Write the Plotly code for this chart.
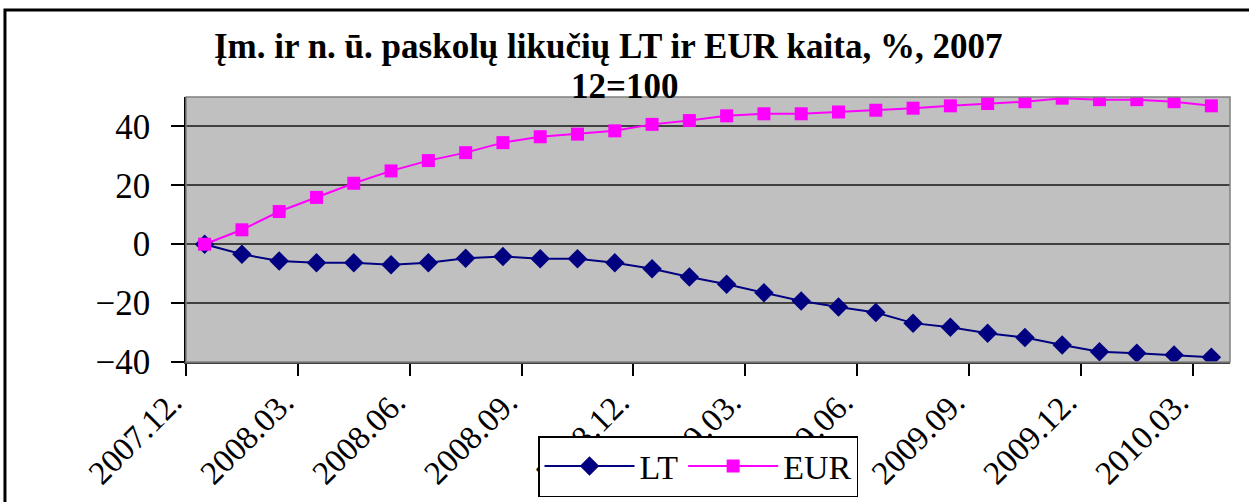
import plotly.graph_objects as go

months = ["2007.12.", "2008.01.", "2008.02.", "2008.03.", "2008.04.", "2008.05.", "2008.06.",
          "2008.07.", "2008.08.", "2008.09.", "2008.10.", "2008.11.", "2008.12.", "2009.01.",
          "2009.02.", "2009.03.", "2009.04.", "2009.05.", "2009.06.", "2009.07.", "2009.08.",
          "2009.09.", "2009.10.", "2009.11.", "2009.12.", "2010.01.", "2010.02.", "2010.03."]

lt = [0.0, -3.4, -5.7, -6.3, -6.3, -7.0, -6.3, -4.8, -4.2, -4.9, -4.9, -6.3, -8.3, -11.1,
      -13.6, -16.5, -19.3, -21.3, -23.2, -26.8, -28.2, -30.2, -31.7, -34.2, -36.5, -37.0, -37.6, -38.4]

eur = [0.0, 4.9, 11.1, 15.9, 20.7, 24.9, 28.4, 31.1, 34.5, 36.5, 37.4, 38.5, 40.7, 42.0,
       43.6, 44.3, 44.3, 44.9, 45.5, 46.2, 47.0, 47.8, 48.4, 49.6, 49.1, 49.1, 48.4, 47.0]

title_line1 = "Įm. ir n. ū. paskolų likučių LT ir EUR kaita, %, 2007"
title_line2 = "12=100"

# category slots: points sit in the middle of each month slot, ticks on slot boundaries
xpos = [i + 0.5 for i in range(len(months))]
tick_idx = list(range(0, len(months), 3))
tickvals = tick_idx
ticktext = [months[i] for i in tick_idx]

FONT = "Liberation Serif, Times New Roman, serif"

fig = go.Figure()
fig.add_trace(go.Scatter(
    x=xpos, y=lt, name="LT", mode="lines+markers",
    line=dict(color="#000080", width=2),
    marker=dict(symbol="diamond", size=15, color="#000080"),
))
fig.add_trace(go.Scatter(
    x=xpos, y=eur, name="EUR", mode="lines+markers",
    line=dict(color="#FF00FF", width=2),
    marker=dict(symbol="square", size=13, color="#FF00FF"),
))

fig.update_layout(
    width=1249, height=502,
    margin=dict(l=186, r=19, t=97, b=140),
    paper_bgcolor="white",
    plot_bgcolor="#C0C0C0",
    font=dict(family=FONT, size=35, color="black"),
    showlegend=True,
    legend=dict(
        orientation="h", xref="container", yref="container",
        x=538 / 1249, y=5 / 502, xanchor="left", yanchor="bottom",
        bgcolor="white", bordercolor="black", borderwidth=1.5,
        font=dict(family=FONT, size=34, color="black"),
        itemwidth=90, tracegroupgap=0,
    ),
    annotations=[
        dict(text="<b>" + title_line1 + "</b>", xref="paper", yref="paper",
             x=0.404, y=1.192, xanchor="center", yanchor="middle", showarrow=False,
             font=dict(family=FONT, size=35, color="black")),
        dict(text="<b>" + title_line2 + "</b>", xref="paper", yref="paper",
             x=0.42, y=1.0415, xanchor="center", yanchor="middle", showarrow=False,
             font=dict(family=FONT, size=35, color="black")),
    ],
    shapes=[dict(
        type="rect", xref="paper", yref="paper",
        x0=-0.1734, x1=1.05, y0=-0.6, y1=1.328,
        line=dict(color="black", width=3), fillcolor="rgba(0,0,0,0)", layer="below",
    ), dict(
        type="rect", xref="paper", yref="paper", x0=0, x1=1, y0=0, y1=1,
        line=dict(color="#808080", width=1.5), fillcolor="rgba(0,0,0,0)", layer="above",
    )],
)

fig.update_xaxes(
    range=[0, len(months)], tickmode="array", tickvals=tickvals, ticktext=ticktext,
    tickangle=-45, ticks="outside", ticklen=12, tickwidth=1.5, tickcolor="black",
    showgrid=False, zeroline=False, showline=True, linecolor="#404040", linewidth=1.5,
    tickfont=dict(family=FONT, size=33), automargin=False,
    ticklabelshift=-14, ticklabelstandoff=-6,
)
fig.update_yaxes(
    range=[-40, 50], tickmode="array", tickvals=[-40, -20, 0, 20, 40],
    ticks="outside", ticklen=13, tickwidth=1.5, tickcolor="black",
    showgrid=True, gridcolor="#404040", gridwidth=1.5, zeroline=False,
    showline=True, linecolor="black", linewidth=1.5,
    tickfont=dict(family=FONT, size=35), ticklabelstandoff=14, automargin=False,
)

fig.write_html("out.html", config={"displayModeBar": False},
               post_script="document.body.style.margin='0';document.body.style.overflow='hidden';")
